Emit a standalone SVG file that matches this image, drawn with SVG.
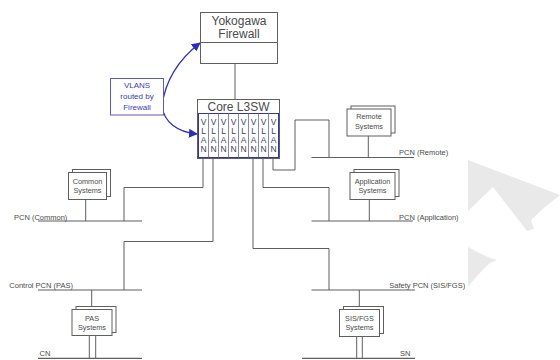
<svg xmlns="http://www.w3.org/2000/svg" width="560" height="360" viewBox="0 0 560 360">
  <defs>
    <marker id="arrow" viewBox="0 0 10 10" refX="9" refY="5" markerWidth="9" markerHeight="9" markerUnits="userSpaceOnUse" orient="auto">
      <path d="M0,0 L10,5 L0,10 z" fill="#2e2eb8"/>
    </marker>
    <style>
      .box { fill: #ffffff; stroke: #5f5f5f; stroke-width: 1; }
      .wire { fill: none; stroke: #5f5f5f; stroke-width: 1; }
      .bus { fill: none; stroke: #5f5f5f; stroke-width: 1.2; }
      .blue { fill: none; stroke: #2e2eb8; stroke-width: 1.3; }
      .t { font-family: "Liberation Sans", Arial, sans-serif; fill: #4a4a4a; }
      .big { font-size: 12px; text-anchor: middle; }
      .sm { font-size: 7.3px; text-anchor: middle; }
      .lbl { font-size: 7.5px; }
      .vl { font-size: 8.5px; text-anchor: middle; fill: #3c3c5a; }
      .bt { font-family: "Liberation Sans", Arial, sans-serif; font-size: 8px; fill: #3a3ab0; text-anchor: middle; }
      .mark { fill: #e9e9e9; }
    </style>
  </defs>

  <rect width="560" height="360" fill="#ffffff"/>

  <!-- light grey background mark on the right -->
  <g id="background-mark">
    <polygon class="mark" points="468,160 560,195 545,207 531,220 534,229 527,231 493,187 468,211"/>
    <path class="mark" d="M468,247 C478,252 488,258 497,260 L490,263 C482,270 474,279 468,287 Z"/>
  </g>

  <!-- connectors -->
  <g id="connectors">
    <!-- firewall to core switch -->
    <line class="wire" x1="235" y1="63.5" x2="235" y2="99.5"/>
    <!-- VLAN 1 to PCN (Common) -->
    <polyline class="wire" points="203,158 203,187.5 124,187.5 124,221"/>
    <!-- VLAN 2 to Control PCN (PAS) -->
    <polyline class="wire" points="213,158 213,241.5 124,241.5 124,290"/>
    <!-- VLAN 6 to Safety PCN -->
    <polyline class="wire" points="253,158 253,248.5 329,248.5 329,290"/>
    <!-- VLAN 7 to PCN (Application) -->
    <polyline class="wire" points="263,158 263,187.5 329,187.5 329,221"/>
    <!-- VLAN 8 to PCN (Remote) -->
    <polyline class="wire" points="273,158 273,170 295,170 295,120 329,120 329,157.5"/>

    <!-- buses -->
    <line class="bus" x1="38" y1="221" x2="142" y2="221"/>
    <line class="bus" x1="38" y1="290" x2="142" y2="290"/>
    <line class="bus" x1="38" y1="358.3" x2="142" y2="358.3"/>
    <line class="bus" x1="311.5" y1="157.5" x2="414" y2="157.5"/>
    <line class="bus" x1="311.5" y1="221" x2="413" y2="221"/>
    <line class="bus" x1="311.5" y1="290" x2="415" y2="290"/>
    <line class="bus" x1="302" y1="358.3" x2="415" y2="358.3"/>

    <!-- system drops -->
    <line class="wire" x1="85.7" y1="199.5" x2="85.7" y2="221"/>
    <line class="wire" x1="369.3" y1="199.5" x2="369.3" y2="221"/>
    <line class="wire" x1="368.3" y1="136" x2="368.3" y2="157.5"/>
    <line class="wire" x1="91.7" y1="290" x2="91.7" y2="309.5"/>
    <line class="wire" x1="89.3" y1="335.5" x2="89.3" y2="358.3"/>
    <line class="wire" x1="95.7" y1="335.5" x2="95.7" y2="358.3"/>
    <line class="wire" x1="359.3" y1="290" x2="359.3" y2="309.5"/>
    <line class="wire" x1="356.7" y1="336" x2="356.7" y2="358.3"/>
    <line class="wire" x1="362.3" y1="336" x2="362.3" y2="358.3"/>

    <!-- VLAN routing arrows -->
    <path class="blue" d="M162,106 C165,82 178,60 200,43" marker-end="url(#arrow)"/>
    <path class="blue" d="M162,106 C164,122 177,132 197,134" marker-end="url(#arrow)"/>
  </g>

  <!-- bus labels -->
  <g id="bus-labels" class="t lbl">
    <text x="14" y="220">PCN (Common)</text>
    <text x="9.3" y="287.5">Control PCN (PAS)</text>
    <text x="39.5" y="356">CN</text>
    <text x="399" y="155">PCN (Remote)</text>
    <text x="399" y="219.5">PCN (Application)</text>
    <text x="389.3" y="287.5">Safety PCN (SIS/FGS)</text>
    <text x="400" y="356">SN</text>
  </g>

  <g id="firewall">
    <rect class="box" x="200.5" y="12.5" width="77" height="51"/>
    <line class="wire" x1="200.5" y1="42.5" x2="277.5" y2="42.5"/>
    <text class="t big" x="239" y="24.7">Yokogawa</text>
    <text class="t big" x="239" y="37.5">Firewall</text>
  </g>

  <g id="vlans-note">
    <rect x="110.5" y="78.5" width="53" height="36.5" fill="#ffffff" stroke="#5a5ab8" stroke-width="1"/>
    <text class="bt" x="137" y="87.5">VLANS</text>
    <text class="bt" x="137" y="99">routed by</text>
    <text class="bt" x="137" y="110">Firewall</text>
  </g>

  <g id="core-l3sw">
    <rect class="box" x="197.5" y="99.5" width="82" height="59"/>
    <text class="t big" x="238.5" y="110.5">Core L3SW</text>
    <rect x="198.5" y="113.5" width="80" height="44" fill="#ffffff" stroke="#3333b0" stroke-width="1"/>
    <g stroke="#6a6a9a" stroke-width="0.8">
      <line x1="208.5" y1="113.5" x2="208.5" y2="157.5"/>
      <line x1="218.5" y1="113.5" x2="218.5" y2="157.5"/>
      <line x1="228.5" y1="113.5" x2="228.5" y2="157.5"/>
      <line x1="238.5" y1="113.5" x2="238.5" y2="157.5"/>
      <line x1="248.5" y1="113.5" x2="248.5" y2="157.5"/>
      <line x1="258.5" y1="113.5" x2="258.5" y2="157.5"/>
      <line x1="268.5" y1="113.5" x2="268.5" y2="157.5"/>
    </g>
    <g class="t vl">
      <text x="203.5" y="124.8">V</text><text x="203.5" y="133.8">L</text><text x="203.5" y="143">A</text><text x="203.5" y="152.3">N</text>
      <text x="213.5" y="124.8">V</text><text x="213.5" y="133.8">L</text><text x="213.5" y="143">A</text><text x="213.5" y="152.3">N</text>
      <text x="223.5" y="124.8">V</text><text x="223.5" y="133.8">L</text><text x="223.5" y="143">A</text><text x="223.5" y="152.3">N</text>
      <text x="233.5" y="124.8">V</text><text x="233.5" y="133.8">L</text><text x="233.5" y="143">A</text><text x="233.5" y="152.3">N</text>
      <text x="243.5" y="124.8">V</text><text x="243.5" y="133.8">L</text><text x="243.5" y="143">A</text><text x="243.5" y="152.3">N</text>
      <text x="253.5" y="124.8">V</text><text x="253.5" y="133.8">L</text><text x="253.5" y="143">A</text><text x="253.5" y="152.3">N</text>
      <text x="263.5" y="124.8">V</text><text x="263.5" y="133.8">L</text><text x="263.5" y="143">A</text><text x="263.5" y="152.3">N</text>
      <text x="273.5" y="124.8">V</text><text x="273.5" y="133.8">L</text><text x="273.5" y="143">A</text><text x="273.5" y="152.3">N</text>
    </g>
  </g>

  <g id="remote-systems">
    <rect class="box" x="351" y="106" width="44" height="27"/>
    <rect class="box" x="347" y="109" width="44" height="27"/>
    <text class="t sm" x="369" y="119">Remote</text>
    <text class="t sm" x="369" y="129">Systems</text>
  </g>

  <g id="application-systems">
    <rect class="box" x="354" y="169.5" width="45" height="27"/>
    <rect class="box" x="350" y="172.5" width="45" height="27"/>
    <text class="t sm" x="372.5" y="184">Application</text>
    <text class="t sm" x="372.5" y="193">Systems</text>
  </g>

  <g id="common-systems">
    <rect class="box" x="72.5" y="169.5" width="38" height="27"/>
    <rect class="box" x="68.5" y="172.5" width="38" height="27"/>
    <text class="t sm" x="87.5" y="184">Common</text>
    <text class="t sm" x="87.5" y="193">Systems</text>
  </g>

  <g id="pas-systems">
    <rect class="box" x="76" y="306.5" width="40" height="26"/>
    <rect class="box" x="72" y="309.5" width="40" height="26"/>
    <text class="t sm" x="92" y="321">PAS</text>
    <text class="t sm" x="92" y="330">Systems</text>
  </g>

  <g id="sis-fgs-systems">
    <rect class="box" x="343.5" y="306.5" width="40" height="27"/>
    <rect class="box" x="339.5" y="309.5" width="40" height="27"/>
    <text class="t sm" x="359.5" y="321">SIS/FGS</text>
    <text class="t sm" x="359.5" y="330">Systems</text>
  </g>
</svg>
